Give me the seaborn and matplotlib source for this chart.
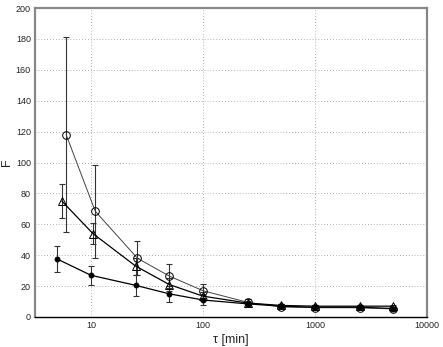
import matplotlib
matplotlib.use("Agg")
import matplotlib.pyplot as plt
import pandas as pd
import seaborn as sns

# tau [min] and F for the three series
tau_circle = [6, 10.9, 26, 50, 100, 250, 500, 1000, 2500, 5000]
f_circle = [118, 68.5, 38, 26.5, 17, 9.5, 6.5, 6, 6, 5.2]
err_circle = [63, 30, 11, 8, 4.5, 2, 1.5, 1, 1, 1]

tau_tri = [5.5, 10.4, 25, 50, 100, 250, 500, 1000, 2500, 5000]
f_tri = [75, 54, 33, 21, 13.5, 9, 7.5, 7, 7, 7]
err_tri = [11, 7, 5.5, 4, 3, 1.5, 1, 1, 1, 1]

tau_dot = [5, 10, 25, 50, 100, 250, 500, 1000, 2500, 5000]
f_dot = [37.5, 27, 20.5, 15, 11, 8.5, 7, 6.3, 6.3, 5.5]
err_dot = [8.5, 6, 7, 5, 3, 1.5, 1, 1.5, 1, 1]

y_ticks = [0, 20, 40, 60, 80, 100, 120, 140, 160, 180, 200]
x_ticks = [10, 100, 1000, 10000]


if __name__ == "__main__":
    sns.set_style("white")
    plt.rcParams["font.family"] = ["Liberation Sans", "DejaVu Sans"]

    fig = plt.figure(figsize=(4.43, 3.47), dpi=100)
    ax = fig.add_axes([35 / 443, 30 / 347, 392 / 443, 309 / 347])

    series = [
        (tau_circle, f_circle, err_circle, "o", "none", "#444444", 0.7, 5.5),
        (tau_tri, f_tri, err_tri, "^", "none", "black", 0.9, 5.5),
        (tau_dot, f_dot, err_dot, "o", "black", "black", 0.9, 3.5),
    ]
    for x, y, e, m, fc, lc, lw, ms in series:
        ax.errorbar(x, y, yerr=e, fmt="none", ecolor="#333333",
                    elinewidth=0.8, capsize=2.5, capthick=0.8, zorder=2)
        df = pd.DataFrame({"tau": x, "F": y})
        sns.lineplot(data=df, x="tau", y="F", ax=ax, color=lc, lw=lw,
                     marker=m, markersize=ms, markerfacecolor=fc,
                     markeredgecolor="black", markeredgewidth=0.7,
                     zorder=3)

    ax.set_xscale("log")
    ax.set_xlim(10 ** 0.5, 10000)
    ax.set_ylim(0, 200)
    ax.set_xticks(x_ticks)
    ax.set_xticklabels([str(t) for t in x_ticks])
    ax.set_yticks(y_ticks)
    ax.minorticks_off()
    ax.grid(True, linestyle=(0, (1, 2.5)), color="#999999", linewidth=0.6)
    ax.tick_params(labelsize=6.5, length=0, pad=3)

    for side in ["left", "top", "right"]:
        ax.spines[side].set_color("#888888")
        ax.spines[side].set_linewidth(1.6)
    ax.spines["bottom"].set_color("black")
    ax.spines["bottom"].set_linewidth(1.0)

    ax.set_xlabel("\u03c4 [min]", fontsize=9, labelpad=3)
    ax.set_ylabel("F", fontsize=9, va="center")
    ax.yaxis.set_label_coords(-28 / 392, 0.5)

    fig.savefig("out.png", dpi=100)
